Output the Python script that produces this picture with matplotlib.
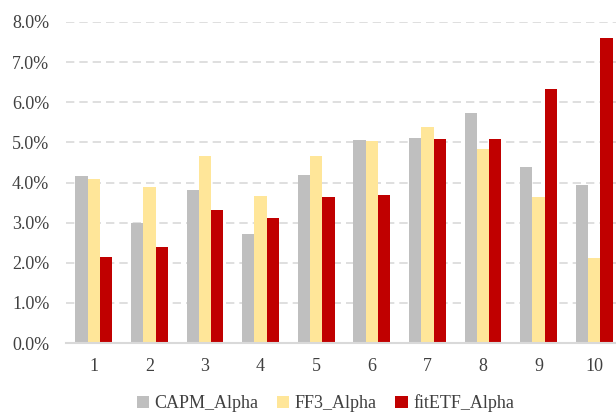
import numpy as np
import matplotlib
matplotlib.use("Agg")
import matplotlib.pyplot as plt
from matplotlib.ticker import FuncFormatter

groups = ["1", "2", "3", "4", "5", "6", "7", "8", "9", "10"]
capm = [4.17, 3.00, 3.81, 2.72, 4.19, 5.05, 5.10, 5.74, 4.39, 3.93]
ff3 = [4.09, 3.88, 4.65, 3.67, 4.67, 5.03, 5.39, 4.84, 3.64, 2.13]
fitetf = [2.14, 2.39, 3.31, 3.12, 3.65, 3.68, 5.08, 5.08, 6.32, 7.60]

plt.rcParams['font.family'] = ['Liberation Serif', 'DejaVu Serif']

fig = plt.figure(figsize=(6.16, 4.16), dpi=100)
ax = fig.add_axes([66/616, 73/416, 556/616, 321/416])

x = np.arange(len(groups))
w = 0.22
ax.bar(x - w, capm, w, color="#BFBFBF", label="CAPM_Alpha", zorder=3)
ax.bar(x, ff3, w, color="#FFE699", label="FF3_Alpha", zorder=3)
ax.bar(x + w, fitetf, w, color="#C00000", label="fitETF_Alpha", zorder=3)

ax.set_xlim(-0.5, 9.5)
ax.set_ylim(0, 8)
ax.set_yticks(np.arange(0, 9, 1))
ax.yaxis.set_major_formatter(FuncFormatter(lambda v, p: "%.1f%%" % v))
ax.set_xticks(x)
ax.set_xticklabels(groups)
ax.grid(axis="y", color="#D9D9D9", linestyle=(0, (5, 3)), linewidth=1.2, zorder=0)
for s in ["top", "right", "left"]:
    ax.spines[s].set_visible(False)
ax.spines["bottom"].set_color("#D9D9D9")
ax.spines["bottom"].set_linewidth(1.5)
ax.spines["bottom"].set_zorder(4)
ax.tick_params(axis="both", length=0, labelsize=13, colors="#404040")
ax.tick_params(axis="x", pad=11)
ax.tick_params(axis="y", pad=12)

fig.legend(loc="lower center", bbox_to_anchor=(0.528, -0.03), ncol=3, frameon=False,
           fontsize=13, handlelength=0.7, handleheight=0.7, handletextpad=0.3,
           columnspacing=1.0, labelcolor="#404040")

fig.savefig("out.png", dpi=100)
